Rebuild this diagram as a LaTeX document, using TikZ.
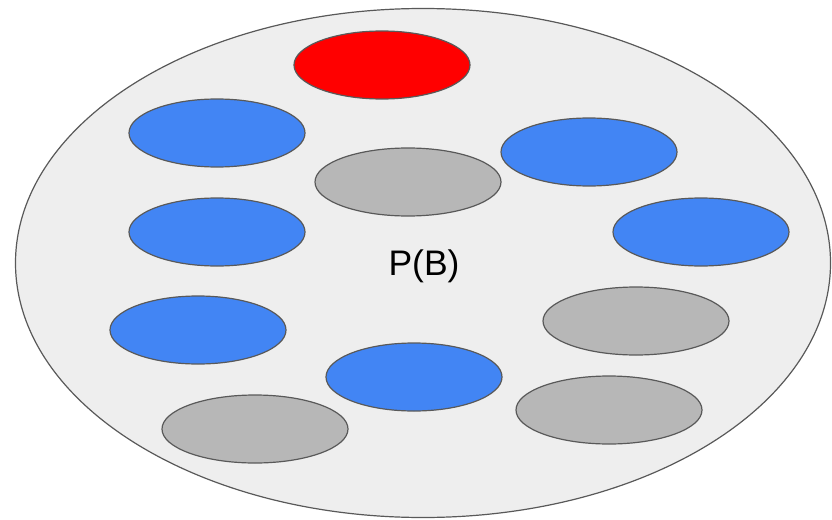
\documentclass[tikz,border=0pt]{standalone}
\usepackage{fontspec}
\setmainfont{Liberation Sans}
\usetikzlibrary{shapes.geometric}

\definecolor{outline}{HTML}{595959}
\definecolor{space}{HTML}{EEEEEE}
\definecolor{evblue}{HTML}{4285F4}
\definecolor{evgray}{HTML}{B7B7B7}
\definecolor{evred}{HTML}{FF0000}

\tikzset{
    outcome/.style={ellipse, draw=outline, line width=1.2pt, inner sep=0pt,
        minimum width=176pt, minimum height=68pt},
}

\begin{document}
\begin{tikzpicture}[x=1pt, y=-1pt]
    \useasboundingbox (0,0) rectangle (832,519);
    % sample space
    \node[ellipse, draw=outline, fill=space, line width=1.2pt, inner sep=0pt,
        minimum width=815pt, minimum height=509pt] (omega) at (423,263) {};
    \node[font=\fontsize{35.5}{40}\selectfont] (label) at (424,266) {P(B)};

    % outcomes
    \node[outcome, fill=evred] (r1) at (382,65) {};
    \node[outcome, fill=evblue] (b1) at (217,133) {};
    \node[outcome, fill=evblue] (b2) at (589,152) {};
    \node[outcome, fill=evgray, minimum width=186pt] (g1) at (408,182) {};
    \node[outcome, fill=evblue] (b3) at (217,232) {};
    \node[outcome, fill=evblue] (b4) at (701,232) {};
    \node[outcome, fill=evgray, minimum width=186pt] (g2) at (636,321) {};
    \node[outcome, fill=evblue] (b5) at (198,330) {};
    \node[outcome, fill=evblue] (b6) at (414,377) {};
    \node[outcome, fill=evgray, minimum width=186pt] (g3) at (609,410) {};
    \node[outcome, fill=evgray, minimum width=186pt] (g4) at (255,429) {};
\end{tikzpicture}
\end{document}
